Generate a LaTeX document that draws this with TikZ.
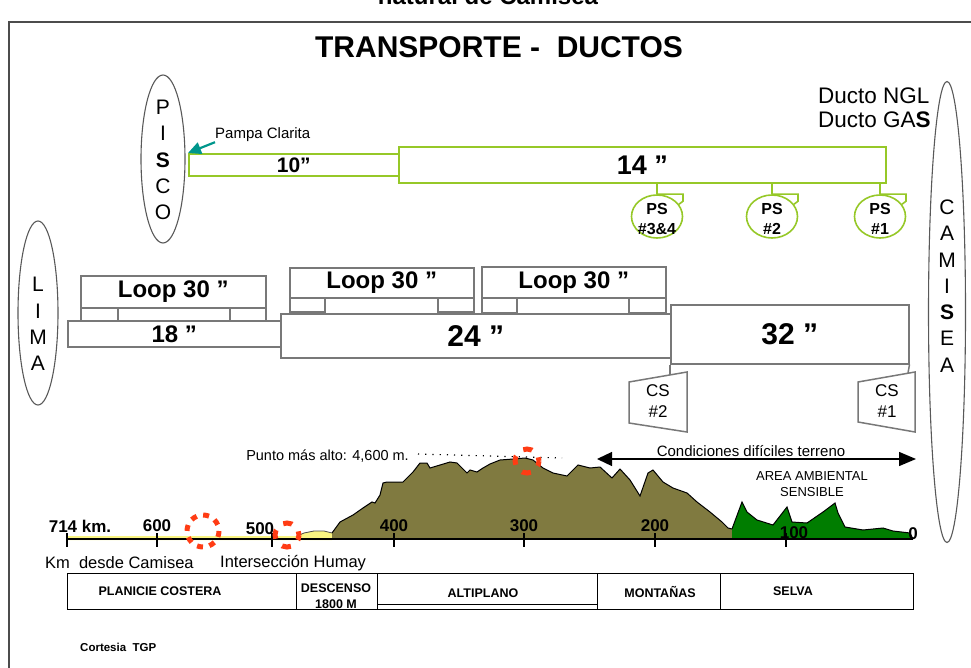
\documentclass[tikz,border=0pt]{standalone}
\usepackage{fontspec}
\setmainfont{Liberation Sans}
\usetikzlibrary{arrows.meta,shapes.geometric}

\definecolor{pipegreen}{RGB}{150,200,40}
\definecolor{boxgray}{RGB}{120,120,120}
\definecolor{hillolive}{RGB}{128,122,64}
\definecolor{jungle}{RGB}{0,125,0}
\definecolor{coastsand}{RGB}{250,245,130}
\definecolor{arrowteal}{RGB}{0,150,140}
\definecolor{hotspot}{RGB}{255,60,20}

\newcommand{\fsz}[1]{\fontsize{#1}{1.2\dimexpr #1pt\relax}\selectfont}

\tikzset{
  gpipe/.style={draw=pipegreen, line width=1.6, rectangle, inner sep=0, anchor=north west},
  gbox/.style={draw=boxgray, line width=1.5, rectangle, inner sep=0, anchor=north west},
  city/.style={draw=black!65, line width=1.1, ellipse, inner sep=0},
  citytext/.style={align=center, inner sep=0, font=\fontsize{21}{26.3}\selectfont},
  pump/.style={draw=pipegreen, line width=1.6, ellipse, inner sep=0, minimum width=51, minimum height=43},
  pumptext/.style={font=\fsz{16}\bfseries, align=center, inner sep=0},
  lbl/.style={inner sep=0},
  kmlbl/.style={font=\fsz{17}\bfseries, inner sep=0},
  hot/.style={draw=hotspot, line width=5},
  cell/.style={draw=black, line width=1.4, rectangle, inner sep=0, anchor=north west, minimum height=36},
  celltext/.style={font=\fsz{12.5}\bfseries, inner sep=0},
}

\begin{document}
\begin{tikzpicture}[x=1pt,y=-1pt]
\useasboundingbox (0,0) rectangle (971,668);
\clip (0,0) rectangle (971,668);

% caption above the frame and the frame itself
\node[lbl, anchor=base, font=\fsz{24}\bfseries] (caption) at (488,5) {natural de Camisea};
\draw[black!70, line width=1.6] (9,668) -- (9,22) -- (971,22);

% title
\node[lbl, font=\fsz{30}\bfseries] (title) at (499,47) {TRANSPORTE -\ \ DUCTOS};

% legend
\node[lbl, anchor=west, font=\fsz{22.5}] (ngl) at (818,96) {Ducto NGL};
\node[lbl, anchor=west, font=\fsz{22.5}] (gas) at (818,120) {Ducto GA\textbf{S}};

% end points of the lines
\node[city, minimum width=44, minimum height=168] (pisco) at (163,159) {};
\node[citytext] (piscot) at (163,160) {P\\I\\\textbf{S}\\C\\O};
\node[city, minimum width=40, minimum height=184] (lima) at (38,313) {};
\node[citytext] (limat) at (38,324) {L\\I\\M\\A};
\node[city, minimum width=37, minimum height=461] (camisea) at (947,312) {};
\node[citytext] (camiseat) at (947,286) {C\\A\\M\\I\\\textbf{S}\\E\\A};

% NGL line: 10'' and 14''
\node[gpipe, minimum width=210, minimum height=22, font=\fsz{21}\bfseries] (p10) at (188,153) {10”};
\node[gpipe, minimum width=487, minimum height=36, font=\fsz{27}\bfseries] (p14) at (398,146) {14 ”};

\node[lbl, anchor=west, font=\fsz{15}] (pampa) at (215,135) {Pampa Clarita};
\draw[arrowteal, line width=2.2, -{Triangle[length=13,width=12]}] (pampa.south west) -- (p10.north west);

% pumping stations
\foreach \nm/\xx/\tx in {ps34/657/{PS\\\#3\&4}, ps2/772/{PS\\\#2}, ps1/880/{PS\\\#1}} {
  \node[pump] (\nm) at (\xx,216.5) {};
  \node[pumptext] at (\xx,219) {\tx};
  \draw[pipegreen, line width=1.6] (\nm.north) -- ++(26,0) -- ++(0,7) -- ++(-4,3);
  \draw[pipegreen, line width=1.6] (\nm.north |- p14.south) -- (\nm.north);
}

% gas line: 18'', 24'', 32''
\node[gbox, minimum width=213, minimum height=26, font=\fsz{24}\bfseries] (p18) at (67,320) {18 ”};
\node[gbox, minimum width=390, minimum height=44, font=\fsz{30}\bfseries] (p24) at (280,313) {24 ”};
\node[gbox, minimum width=238, minimum height=59, font=\fsz{30}\bfseries] (p32) at (670,304) {32 ”};

% loops
\node[gbox, minimum width=185, minimum height=32, font=\fsz{24}\bfseries] (loopa) at (80,275) {Loop 30 ”};
\node[gbox, minimum width=37, minimum height=13] (loopal) at (80,307) {};
\node[gbox, minimum width=36, minimum height=13] (loopar) at (229,307) {};
\node[gbox, minimum width=184, minimum height=30, font=\fsz{24}\bfseries] (loopb) at (289,267) {Loop 30 ”};
\node[gbox, minimum width=35, minimum height=14] (loopbl) at (289,297) {};
\node[gbox, minimum width=36, minimum height=14] (loopbr) at (437,297) {};
\node[gbox, minimum width=184, minimum height=31, font=\fsz{24}\bfseries] (loopc) at (481,266) {Loop 30 ”};
\node[gbox, minimum width=35, minimum height=15] (loopcl) at (481,297) {};
\node[gbox, minimum width=37, minimum height=15] (loopcr) at (628,297) {};

% compressor stations
\node[lbl, font=\fsz{17}, align=center] (cs2) at (658,401) {CS\\\#2};
\node[lbl, font=\fsz{17}, align=center] (cs1) at (887,401) {CS\\\#1};
\draw[boxgray, line width=1.5, shift={(cs2.center)}] (-29,-19) -- (29,-29) -- (29,31) -- (-29,22) -- cycle;
\draw[boxgray, line width=1.5, shift={(cs1.center)}] (-29,-19) -- (28,-29) -- (28,31) -- (-29,21) -- cycle;
\coordinate (cs2in) at (670,375);
\coordinate (cs1in) at (908,373);
\draw[boxgray, line width=1.5] (p32.south west) -- (cs2in);
\draw[boxgray, line width=1.5] (p32.south east) -- (cs1in);

% elevation profile
\fill[coastsand] (67,536) -- (296,536) -- (304,533) -- (314,531) -- (324,531) -- (332,533) -- (332,540) -- (67,540) -- cycle;
\draw[black!70, line width=0.8] (296,536.5) -- (304,533) -- (314,531) -- (324,531) -- (332,533);
\fill[hillolive] (332,539) -- (332,533) -- (340,522) -- (353,515) -- (363,508) -- (372,502) -- (375,503) -- (380,495) -- (383,483) -- (387,482) -- (403,482) -- (413,472) -- (420,463) -- (427,463) -- (430,468) -- (440,465) -- (450,462) -- (457,463) -- (467,473) -- (470,470) -- (477,472) -- (483,468) -- (490,464) -- (500,460) -- (513,459) -- (525,458) -- (533,460) -- (543,468) -- (553,473) -- (567,476) -- (578,465) -- (590,468) -- (600,467) -- (612,478) -- (620,469) -- (630,480) -- (640,496) -- (648,473) -- (653,470) -- (663,482) -- (673,488) -- (687,493) -- (697,502) -- (710,512) -- (722,522) -- (728,528) -- (732,529) -- (732,539) -- cycle;
\draw[black, line width=1] (332,533) -- (340,522) -- (353,515) -- (363,508) -- (372,502) -- (375,503) -- (380,495) -- (383,483) -- (387,482) -- (403,482) -- (413,472) -- (420,463) -- (427,463) -- (430,468) -- (440,465) -- (450,462) -- (457,463) -- (467,473) -- (470,470) -- (477,472) -- (483,468) -- (490,464) -- (500,460) -- (513,459) -- (525,458) -- (533,460) -- (543,468) -- (553,473) -- (567,476) -- (578,465) -- (590,468) -- (600,467) -- (612,478) -- (620,469) -- (630,480) -- (640,496) -- (648,473) -- (653,470) -- (663,482) -- (673,488) -- (687,493) -- (697,502) -- (710,512) -- (722,522) -- (728,528) -- (732,529);
\fill[jungle] (732,539) -- (732,529) -- (742,502) -- (747,512) -- (757,520) -- (773,525) -- (787,507) -- (792,522) -- (807,523) -- (823,512) -- (835,503) -- (838,513) -- (845,527) -- (863,530) -- (883,528) -- (893,531) -- (910,533) -- (913,539) -- cycle;
\draw[black, line width=1] (732,529) -- (742,502) -- (747,512) -- (757,520) -- (773,525) -- (787,507) -- (792,522) -- (807,523) -- (823,512) -- (835,503) -- (838,513) -- (845,527) -- (863,530) -- (883,528) -- (893,531) -- (910,533) -- (913,539);

% distance axis
\draw[black, line width=1.4] (67,539) -- (913,539);
\foreach \xx in {67,157,272,394,524,655,786} \draw[black, line width=1.2] (\xx,533) -- (\xx,547);
\node[kmlbl] (k714) at (80,526) {714 km.};
\node[kmlbl] (k600) at (157,526) {600};
\node[kmlbl] (k500) at (260,529) {500};
\node[kmlbl] (k400) at (394,526) {400};
\node[kmlbl] (k300) at (524,526) {300};
\node[kmlbl] (k200) at (655,526) {200};
\node[kmlbl] (k100) at (794,533) {100};
\node[kmlbl] (k0) at (913,534) {0};

% highest point
\node[lbl, anchor=east, font=\fsz{14.5}] (alto) at (409,456) {Punto más alto: 4,600 m.};
\coordinate (altoend) at (562,458);
\draw[black, line width=1.2, dash pattern=on 1.2pt off 6pt] ([xshift=9pt,yshift=2pt]alto.east) -- (altoend);

% trouble spots
\draw[hot, dash pattern=on 6pt off 6.57pt] (203,531) circle[radius=16];
\draw[hot, dash pattern=on 9pt off 9.8pt, dash phase=4pt] (287,535) circle[radius=12];
\draw[hot, dash pattern=on 9pt off 9.8pt, dash phase=4pt] (527,461) circle[radius=12];

% difficult terrain span
\coordinate (difl) at (597,459);
\coordinate (difr) at (916,459);
\draw[black, line width=1.3, {Triangle[length=15,width=14]}-{Triangle[length=17,width=14]}] (difl) -- (difr);
\node[lbl, font=\fsz{15}] (dift) at (751,451) {Condiciones difíciles terreno};
\node[lbl, font=\fsz{13}, align=center] (area) at (812,484) {AREA AMBIENTAL\\SENSIBLE};

\node[lbl, anchor=west, font=\fsz{16.5}] (kmdesde) at (45,563) {Km\hspace{0.55em}desde Camisea};
\node[lbl, anchor=west, font=\fsz{16.5}] (humay) at (220,563) {Intersección Humay};

% regions table
\node[cell, minimum width=229] (tc1) at (67,573) {};
\node[cell, minimum width=81] (tc2) at (296,573) {};
\node[cell, minimum width=220] (tc3) at (377,573) {};
\node[cell, minimum width=123] (tc4) at (597,573) {};
\node[cell, minimum width=193] (tc5) at (720,573) {};
\draw[black, line width=1.3] (tc3.south west) ++(0,-6) -- ++(220,0);
\node[celltext] (t1) at (160,591) {PLANICIE COSTERA};
\node[celltext] (t2) at (336,588) {DESCENSO};
\node[celltext] (t2b) at (336,604) {1800 M};
\node[celltext] (t3) at (483,593) {ALTIPLANO};
\node[celltext] (t4) at (660,592) {MONTAÑAS};
\node[celltext] (t5) at (793,591) {SELVA};

\node[lbl, anchor=west, font=\fsz{11.5}\bfseries] (credit) at (80,647) {Cortesia\ \ TGP};
\end{tikzpicture}
\end{document}
